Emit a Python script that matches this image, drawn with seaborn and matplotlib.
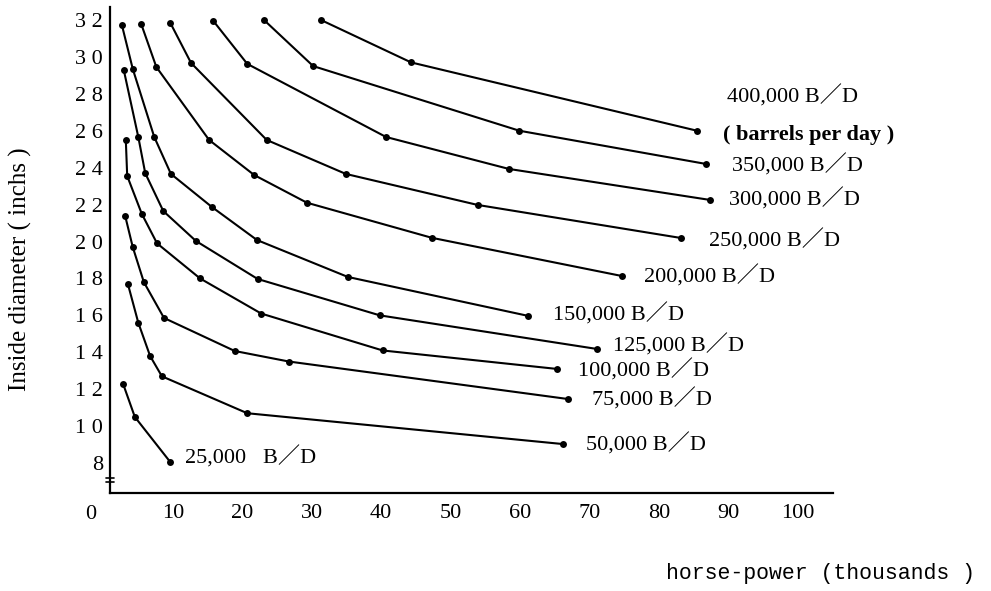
import matplotlib
matplotlib.use("Agg")
import matplotlib.pyplot as plt
import matplotlib.transforms as mtransforms
import pandas as pd
import seaborn as sns

# Pipeline throughput curves: inside diameter (inches) vs. horse-power (thousands)
flows = ["25,000", "50,000", "75,000", "100,000", "125,000", "150,000",
         "200,000", "250,000", "300,000", "350,000", "400,000"]

hp_25k = [2.8, 4.5, 9.6]
dia_25k = [12.3, 10.5, 8.06]

hp_50k = [3.5, 5.0, 6.7, 8.4, 20.7, 66.2]
dia_50k = [17.7, 15.6, 13.8, 12.7, 10.7, 9.03]

hp_75k = [3.1, 4.2, 5.8, 8.7, 18.9, 26.7, 66.9]
dia_75k = [21.4, 19.7, 17.8, 15.86, 14.07, 13.5, 11.47]

hp_100k = [3.2, 3.4, 5.5, 7.7, 13.9, 22.7, 40.2, 65.3]
dia_100k = [25.5, 23.55, 21.5, 19.9, 18.0, 16.1, 14.1, 13.1]

hp_125k = [2.9, 5.0, 6.0, 8.6, 13.3, 22.2, 39.8, 71.1]
dia_125k = [29.3, 25.66, 23.7, 21.65, 20.03, 17.97, 16.0, 14.18]

hp_150k = [2.65, 4.2, 7.3, 9.7, 15.6, 22.1, 35.2, 61.2]
dia_150k = [31.7, 29.35, 25.66, 23.66, 21.87, 20.08, 18.08, 15.97]

hp_200k = [5.4, 7.6, 15.2, 21.7, 29.3, 47.3, 74.7]
dia_200k = [31.8, 29.45, 25.5, 23.6, 22.1, 20.2, 18.13]

hp_250k = [9.6, 12.6, 23.5, 34.9, 53.9, 83.2]
dia_250k = [31.85, 29.67, 25.5, 23.66, 21.98, 20.19]

hp_300k = [15.8, 20.7, 40.7, 58.4, 87.4]
dia_300k = [31.95, 29.62, 25.66, 23.93, 22.25]

hp_350k = [23.1, 30.2, 59.9, 86.8]
dia_350k = [32.0, 29.5, 26.0, 24.2]

hp_400k = [31.3, 44.3, 85.5]
dia_400k = [32.0, 29.7, 26.0]

hp_series = [hp_25k, hp_50k, hp_75k, hp_100k, hp_125k, hp_150k,
             hp_200k, hp_250k, hp_300k, hp_350k, hp_400k]
dia_series = [dia_25k, dia_50k, dia_75k, dia_100k, dia_125k, dia_150k,
              dia_200k, dia_250k, dia_300k, dia_350k, dia_400k]

y_ticks = [8, 10, 12, 14, 16, 18, 20, 22, 24, 26, 28, 30, 32]
x_ticks = [10, 20, 30, 40, 50, 60, 70, 80, 90, 100]

# label placement relative to each curve's last point (pixels: right, up)
label_offsets = {
    "25,000": (15, 5), "50,000": (23, 0), "75,000": (24, 0),
    "100,000": (21, -2), "125,000": (16, 4), "150,000": (25, 1),
    "200,000": (22, 0), "250,000": (28, -2), "300,000": (19, 1),
    "350,000": (26, -1), "400,000": (30, 34),
}

rows = []
for flow, xs, ys in zip(flows, hp_series, dia_series):
    for i, (x, y) in enumerate(zip(xs, ys)):
        rows.append({"flow": flow, "order": i, "hp": x, "dia": y})
df = pd.DataFrame(rows)

sns.set_style("white")
FAMILY = ["Liberation Serif", "Noto Sans CJK JP"]
plt.rcParams["font.family"] = FAMILY
plt.rcParams["text.color"] = "black"

fig = plt.figure(figsize=(9.91, 5.91), dpi=100)
ax = fig.add_axes([103.6 / 991, 1 - 493 / 591, 729.4 / 991, 486 / 591])

sns.lineplot(data=df, x="hp", y="dia", units="flow", estimator=None,
             sort=False, color="black", marker="o", markersize=5,
             markeredgewidth=0, linewidth=1.5, legend=False, ax=ax)

ax.set_xlim(0, 105.1)
ax.set_ylim(6.38, 32.7)

for side in ("top", "right"):
    ax.spines[side].set_visible(False)
ax.spines["left"].set_position(("data", 0.92))
ax.spines["bottom"].set_bounds(0.92, 105.1)
for side in ("left", "bottom"):
    ax.spines[side].set_color("black")
    ax.spines[side].set_linewidth(1.6)

ax.set_yticks(y_ticks)
ax.set_yticklabels([" ".join(str(v)) for v in y_ticks])
ax.set_xticks(x_ticks)
ax.set_xticklabels([str(v) for v in x_ticks])
ax.tick_params(axis="y", direction="out", length=4, width=1.2, pad=1,
               labelsize=16, colors="black")
ax.tick_params(axis="x", direction="in", length=3, width=1.2, pad=8,
               labelsize=16, colors="black")
ax.set_xlabel("")
ax.set_ylabel("")

# origin label without a tick mark
xform = mtransforms.blended_transform_factory(ax.transData, ax.transAxes)
ax.text(-1.8, -0.024, "0", transform=xform, ha="center", va="top",
        fontsize=16, family=FAMILY)

# axis break marks near the bottom of the diameter scale
for yb in (7.17, 7.0):
    ax.plot([0.3, 1.55], [yb, yb], color="black", lw=1.2, clip_on=False)

# curve labels
for flow, xs, ys in zip(flows, hp_series, dia_series):
    dx, dy = label_offsets[flow]
    gap = "   " if flow == "25,000" else " "
    ax.annotate(f"{flow}{gap}B／D", xy=(xs[-1], ys[-1]), xytext=(dx, dy),
                textcoords="offset pixels", ha="left", va="center",
                fontsize=16, family=FAMILY)

ax.annotate("( barrels per day )", xy=(hp_400k[-1], dia_400k[-1]),
            xytext=(26, -4), textcoords="offset pixels", ha="left",
            va="center", fontsize=16, fontweight="bold", family=FAMILY)

fig.text(20 / 991, 1 - 269 / 591, "Inside diameter ( inchs )", rotation=90,
         ha="center", va="center", fontsize=18, family=FAMILY)
fig.text(821 / 991, 1 - 573 / 591, "horse-power (thousands )",
         ha="center", va="center", fontsize=15.5,
         family=["Liberation Mono", "DejaVu Sans Mono"])

fig.savefig("out.png", dpi=100, facecolor="white")
